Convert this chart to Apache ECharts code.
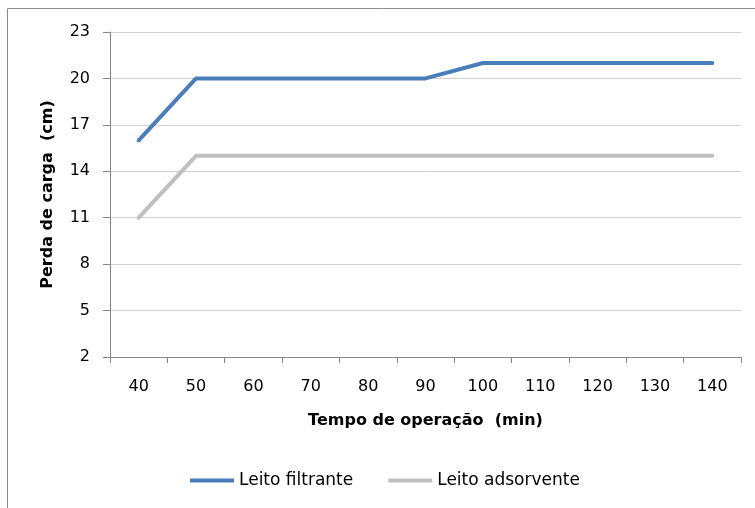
<!DOCTYPE html>
<html>
<head>
<meta charset="utf-8">
<script src="https://cdn.jsdelivr.net/npm/echarts@6/dist/echarts.min.js"></script>
<style>
  html, body { margin: 0; padding: 0; background: #fff; }
  #chart { width: 755px; height: 508px; }
</style>
</head>
<body>
<div id="chart"></div>
<script>
// Operating time (min) on the x axis
const tempos = ['40', '50', '60', '70', '80', '90', '100', '110', '120', '130', '140'];
// Head loss (cm) for each bed
const leitoFiltrante = [16, 20, 20, 20, 20, 20, 21, 21, 21, 21, 21];
const leitoAdsorvente = [11, 15, 15, 15, 15, 15, 15, 15, 15, 15, 15];
// Value axis range
const yMin = 2, yMax = 23, yStep = 3;

const FONT = '"DejaVu Sans"';
const chart = echarts.init(document.getElementById('chart'), null, { renderer: 'canvas' });

chart.setOption({
  animation: false,
  backgroundColor: '#ffffff',
  graphic: [{
    type: 'rect',
    shape: { x: 7.5, y: 8.5, width: 800, height: 600 },
    style: { fill: 'none', stroke: '#8c8c8c', lineWidth: 1 },
    silent: true
  }],
  grid: { left: 110, top: 32, right: 14, bottom: 151, containLabel: false },
  xAxis: {
    type: 'category',
    data: tempos,
    boundaryGap: true,
    name: 'Tempo de operação  (min)',
    nameLocation: 'middle',
    nameGap: 56,
    nameTextStyle: { fontFamily: FONT, fontSize: 16, fontWeight: 'bold', color: '#000' },
    axisLine: { lineStyle: { color: '#868686', width: 1 } },
    axisTick: { show: true, alignWithLabel: false, length: 6, lineStyle: { color: '#868686' } },
    axisLabel: { fontFamily: FONT, fontSize: 16, color: '#000', margin: 22 },
    splitLine: { show: false }
  },
  yAxis: {
    type: 'value',
    min: yMin,
    max: yMax,
    interval: yStep,
    name: 'Perda de carga  (cm)',
    nameLocation: 'middle',
    nameGap: 54,
    nameRotate: 90,
    nameTextStyle: { fontFamily: FONT, fontSize: 16, fontWeight: 'bold', color: '#000' },
    axisLine: { show: true, lineStyle: { color: '#868686', width: 1 } },
    axisTick: { show: true, length: 7, lineStyle: { color: '#868686' } },
    axisLabel: { fontFamily: FONT, fontSize: 16, color: '#000', margin: 20 },
    splitLine: { show: true, lineStyle: { color: '#d0d0d0', width: 1 } }
  },
  legend: {
    bottom: 14,
    left: 185,
    itemGap: 35,
    itemWidth: 44,
    itemHeight: 4,
    icon: 'rect',
    textStyle: { fontFamily: FONT, fontSize: 17, color: '#000' },
    data: ['Leito filtrante', 'Leito adsorvente']
  },
  series: [
    {
      name: 'Leito filtrante',
      type: 'line',
      data: leitoFiltrante,
      symbol: 'none',
      lineStyle: { color: '#4a7ebb', width: 4, cap: 'round', join: 'round' },
      itemStyle: { color: '#4a7ebb' }
    },
    {
      name: 'Leito adsorvente',
      type: 'line',
      data: leitoAdsorvente,
      symbol: 'none',
      lineStyle: { color: '#bfbfbf', width: 4, cap: 'round', join: 'round' },
      itemStyle: { color: '#bfbfbf' }
    }
  ]
});
</script>
</body>
</html>
